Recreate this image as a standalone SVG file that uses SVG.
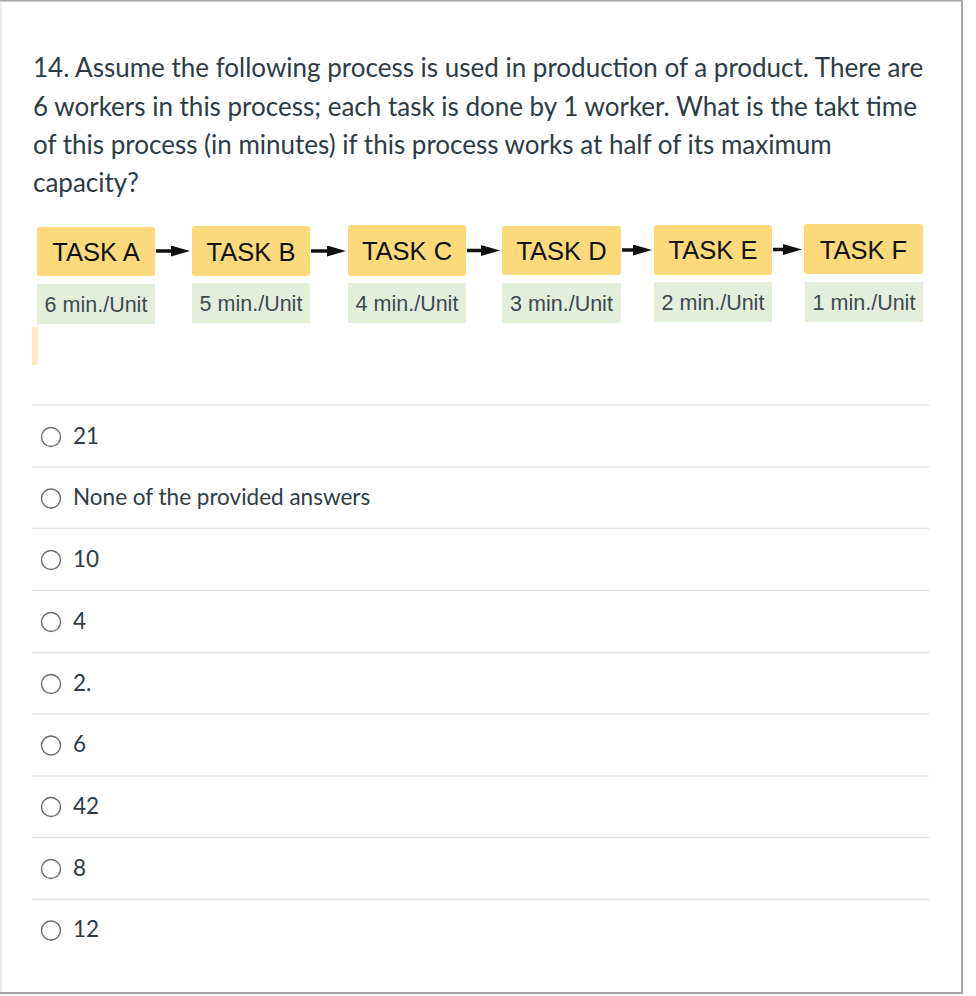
<svg xmlns="http://www.w3.org/2000/svg" width="976" height="996" viewBox="0 0 976 996">
<defs>
<style>
.q{font-family:Lato,"Open Sans",sans-serif;font-size:26px;fill:#2d3b45}
.task{fill:#fcd97b}
.tt{font-family:"Liberation Sans",Arial,sans-serif;font-size:25.5px;fill:#111;text-anchor:middle}
.rate{fill:#e3efdb}
.rt{font-family:"Liberation Sans",Arial,sans-serif;font-size:21.5px;fill:#3b4a54;text-anchor:middle}
.sep{stroke:#e2e2e2;stroke-width:1.6}
.radio{fill:#fff;stroke:#6b6b6b;stroke-width:1.4}
.opt{font-family:Lato,"Open Sans",sans-serif;font-size:22.5px;fill:#2d3b45}
.conn{stroke:#111;stroke-width:3.5;marker-end:url(#ah)}
</style>
<marker id="ah" markerUnits="userSpaceOnUse" markerWidth="19" markerHeight="11" refX="8" refY="5.5" orient="auto">
<path d="M0,0 L19,5.5 L0,11 z" fill="#111"/>
</marker>
</defs>
<rect x="0" y="0" width="976" height="996" fill="#fff"/>
<line x1="1" y1="0" x2="1" y2="993" stroke="#e4e4e4" stroke-width="1.5"/>
<line x1="0" y1="0.7" x2="963" y2="0.7" stroke="#a6a6a6" stroke-width="1.5"/>
<line x1="962" y1="0" x2="962" y2="994" stroke="#a6a6a6" stroke-width="2"/>
<line x1="0" y1="993" x2="963" y2="993" stroke="#a6a6a6" stroke-width="2"/>

<g id="question">
<text class="q" x="33" y="77">14. Assume the following process is used in production of a product. There are</text>
<text class="q" x="33" y="115.5">6 workers in this process; each task is done by 1 worker. What is the takt time</text>
<text class="q" x="33" y="154">of this process (in minutes) if this process works at half of its maximum</text>
<text class="q" x="33" y="192">capacity?</text>
</g>

<g id="taskA">
<rect class="task" x="37" y="227" width="118" height="49" rx="3"/>
<text class="tt" x="96" y="261">TASK A</text>
<rect class="rate" x="37" y="284" width="118" height="40"/>
<text class="rt" x="96" y="312">6 min./Unit</text>
</g>
<g id="taskB">
<rect class="task" x="192" y="226" width="118" height="50" rx="3"/>
<text class="tt" x="251" y="260.5">TASK B</text>
<rect class="rate" x="192" y="283" width="118" height="40"/>
<text class="rt" x="251" y="311">5 min./Unit</text>
</g>
<g id="taskC">
<rect class="task" x="348" y="225" width="118" height="51" rx="3"/>
<text class="tt" x="407" y="260">TASK C</text>
<rect class="rate" x="348" y="283" width="118" height="40"/>
<text class="rt" x="407" y="311">4 min./Unit</text>
</g>
<g id="taskD">
<rect class="task" x="502" y="226" width="119" height="49" rx="3"/>
<text class="tt" x="561.5" y="259.5">TASK D</text>
<rect class="rate" x="502" y="283" width="119" height="40"/>
<text class="rt" x="561.5" y="310.5">3 min./Unit</text>
</g>
<g id="taskE">
<rect class="task" x="654" y="225" width="118" height="50" rx="3"/>
<text class="tt" x="713" y="259">TASK E</text>
<rect class="rate" x="654" y="282" width="118" height="40"/>
<text class="rt" x="713" y="310">2 min./Unit</text>
</g>
<g id="taskF">
<rect class="task" x="804" y="224" width="119" height="50" rx="3"/>
<text class="tt" x="863.5" y="258.5">TASK F</text>
<rect class="rate" x="805" y="282" width="118" height="40"/>
<text class="rt" x="864" y="309.5">1 min./Unit</text>
</g>

<g id="connectors">
<line class="conn" x1="156" y1="251" x2="179" y2="251"/>
<line class="conn" x1="311" y1="251" x2="335" y2="251"/>
<line class="conn" x1="467" y1="250.5" x2="489" y2="250.5"/>
<line class="conn" x1="622" y1="250" x2="641" y2="250"/>
<line class="conn" x1="773" y1="249.5" x2="791" y2="249.5"/>
</g>

<rect x="32" y="327" width="6" height="38" fill="#fde8c3"/>

<g id="separators">
<line class="sep" x1="32" y1="405" x2="929" y2="405"/>
<line class="sep" x1="32" y1="467" x2="929" y2="467"/>
<line class="sep" x1="32" y1="528.5" x2="929" y2="528.5"/>
<line class="sep" x1="32" y1="590.5" x2="929" y2="590.5"/>
<line class="sep" x1="32" y1="652.5" x2="929" y2="652.5"/>
<line class="sep" x1="32" y1="714" x2="929" y2="714"/>
<line class="sep" x1="32" y1="776" x2="929" y2="776"/>
<line class="sep" x1="32" y1="837.5" x2="929" y2="837.5"/>
<line class="sep" x1="32" y1="899.5" x2="929" y2="899.5"/>
</g>

<g id="opt1"><circle class="radio" cx="51" cy="437" r="9.5"/><text class="opt" x="73" y="443.5">21</text></g>
<g id="opt2"><circle class="radio" cx="51" cy="498.5" r="9.5"/><text class="opt" x="73" y="505">None of the provided answers</text></g>
<g id="opt3"><circle class="radio" cx="51" cy="560" r="9.5"/><text class="opt" x="73" y="566.5">10</text></g>
<g id="opt4"><circle class="radio" cx="51" cy="622" r="9.5"/><text class="opt" x="73" y="628.5">4</text></g>
<g id="opt5"><circle class="radio" cx="51" cy="684" r="9.5"/><text class="opt" x="73" y="690.5">2.</text></g>
<g id="opt6"><circle class="radio" cx="51" cy="745.5" r="9.5"/><text class="opt" x="73" y="752">6</text></g>
<g id="opt7"><circle class="radio" cx="51" cy="807" r="9.5"/><text class="opt" x="73" y="813.5">42</text></g>
<g id="opt8"><circle class="radio" cx="51" cy="869" r="9.5"/><text class="opt" x="73" y="875.5">8</text></g>
<g id="opt9"><circle class="radio" cx="51" cy="930.5" r="9.5"/><text class="opt" x="73" y="937">12</text></g>
</svg>
